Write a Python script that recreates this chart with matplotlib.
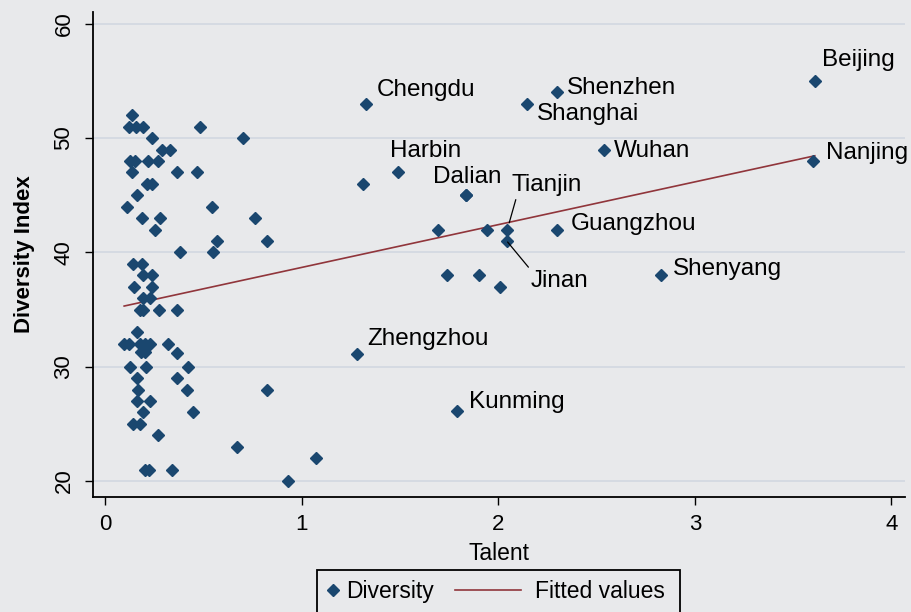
import numpy as np
import matplotlib
matplotlib.use("Agg")
import matplotlib.pyplot as plt
from matplotlib.lines import Line2D
from matplotlib.patches import Rectangle

plt.rcParams['font.family'] = ['Liberation Sans', 'DejaVu Sans']

# labelled cities
cities = ['Beijing', 'Nanjing', 'Shenzhen', 'Shanghai', 'Chengdu', 'Wuhan',
          'Harbin', 'Dalian', 'Tianjin', 'Guangzhou', 'Jinan', 'Shenyang',
          'Zhengzhou', 'Kunming']
city_talent = [3.61, 3.60, 2.30, 2.147, 1.326, 2.537, 1.487, 1.835, 2.045,
               2.30, 2.042, 2.825, 1.278, 1.79]
city_div = [55, 48, 54, 53, 53, 49, 47, 45, 42, 42, 41, 38, 31.1, 26.1]

# other (unlabelled) cities
other_talent = [0.133,
                0.12, 0.155, 0.19, 0.48,
                0.235, 0.70,
                0.286, 0.328,
                0.125, 0.15, 0.218, 0.269,
                0.133, 0.362, 0.467,
                0.21, 0.235, 1.312,
                0.159, 1.835,
                0.108, 0.54,
                0.184, 0.277, 0.76,
                0.252, 1.69, 1.94,
                0.569, 0.82,
                0.379, 0.549,
                0.142, 0.184,
                0.192, 0.235, 1.74, 1.90,
                0.147, 0.235, 2.01,
                0.192, 0.226,
                0.176, 0.192, 0.274, 0.365,
                0.159,
                0.095, 0.12, 0.175, 0.2, 0.226, 0.317,
                0.18, 0.2, 0.365,
                0.125, 0.206, 0.42,
                0.159, 0.365,
                0.164, 0.413, 0.82,
                0.159, 0.226,
                0.192, 0.447,
                0.142, 0.176,
                0.269,
                0.668,
                1.07,
                0.20, 0.22, 0.34,
                0.927]
other_div = [52,
             51, 51, 51, 51,
             50, 50,
             49, 49,
             48, 48, 48, 48,
             47, 47, 47,
             46, 46, 46,
             45, 45,
             44, 44,
             43, 43, 43,
             42, 42, 42,
             41, 41,
             40, 40,
             39, 39,
             38, 38, 38, 38,
             37, 37, 37,
             36, 36,
             35, 35, 35, 35,
             33,
             32, 32, 32, 32, 32, 32,
             31.3, 31.3, 31.2,
             30, 30, 30,
             29, 29,
             28, 28, 28,
             27, 27,
             26, 26,
             25, 25,
             24,
             23,
             22,
             21, 21, 21,
             20]

# fitted line
fit_intercept = 34.95
fit_slope = 3.74

# label offsets in pixels (dx, dy), dy positive = down
label_offsets = {
    'Beijing': (7, -21), 'Nanjing': (13, -8), 'Shenzhen': (9, -4),
    'Shanghai': (10, 10), 'Chengdu': (11, -14), 'Wuhan': (10, 1),
    'Harbin': (-8, -21), 'Dalian': (-33, -18), 'Tianjin': (4, -45),
    'Guangzhou': (13, -6), 'Jinan': (24, 40), 'Shenyang': (12, -6),
    'Zhengzhou': (11, -15), 'Kunming': (12, -9),
}

bg = '#e8e9eb'
navy = '#1a476f'
maroon = '#90353b'

fig = plt.figure(figsize=(9.12, 6.12), dpi=100, facecolor=bg)
ax = fig.add_axes([92.6 / 912, 1 - 497 / 612, (905 - 92.6) / 912, (497 - 12) / 612])
ax.set_facecolor(bg)

all_x = np.array(other_talent + city_talent)
all_y = np.array(other_div + city_div)

ax.plot(all_x, all_y, linestyle='none', marker='D', ms=6.4, color=navy,
        mec=navy, zorder=3)

xf = np.array([all_x.min(), all_x.max()])
ax.plot(xf, fit_intercept + fit_slope * xf, color=maroon, lw=1.2, zorder=2)

px = 0.72  # points per pixel
for name, cx, cy in zip(cities, city_talent, city_div):
    dx, dy = label_offsets[name]
    kw = {}
    if name == 'Tianjin':
        kw['arrowprops'] = dict(arrowstyle='-', color='black', lw=0.9,
                                relpos=(0.08, 0.0), shrinkA=1, shrinkB=5)
    elif name == 'Jinan':
        kw['arrowprops'] = dict(arrowstyle='-', color='black', lw=0.9,
                                relpos=(0.0, 1.0), shrinkA=0, shrinkB=1)
    ax.annotate(name, (cx, cy), xytext=(dx * px, -dy * px),
                textcoords='offset points', ha='left', va='center',
                fontsize=17.5, color='black', zorder=4, **kw)

ax.set_xlim(-0.0656, 4.069)
ax.set_ylim(18.6, 61.03)
ax.set_xticks([0, 1, 2, 3, 4])
ax.set_yticks([20, 30, 40, 50, 60])
ax.tick_params(axis='both', length=6, width=1, labelsize=16, colors='black')
ax.tick_params(axis='x', pad=6)
ax.tick_params(axis='y', pad=7)
for lab in ax.get_yticklabels():
    lab.set_rotation(90)
    lab.set_va('center')

ax.yaxis.grid(True, color='#d3d9e2', lw=1.3)
ax.set_axisbelow(True)
for s in ['top', 'right']:
    ax.spines[s].set_visible(False)
for s in ['left', 'bottom']:
    ax.spines[s].set_linewidth(1.3)
    ax.spines[s].set_color('black')

ax.set_xlabel('Talent', fontsize=16.5, labelpad=5)
ax.set_ylabel('Diversity Index', fontsize=16, fontweight='bold', labelpad=13)

# legend
h1 = Line2D([], [], linestyle='none', marker='D', ms=6, color=navy)
h2 = Line2D([], [], color=maroon, lw=1.2)
yc = 1 - 591.7 / 612
leg1 = fig.legend([h1], ['Diversity'], loc='center left',
                  bbox_to_anchor=(326 / 912, yc), frameon=False, fontsize=16.5,
                  handlelength=0.6, handletextpad=0.3, borderpad=0,
                  borderaxespad=0)
leg2 = fig.legend([h2], ['Fitted values'], loc='center left',
                  bbox_to_anchor=(455 / 912, yc), frameon=False, fontsize=16.5,
                  handlelength=2.9, handletextpad=0.6, borderpad=0,
                  borderaxespad=0)
fig.patches.append(Rectangle((317 / 912, -0.02), (680 - 317) / 912,
                             (612 - 570) / 612 + 0.02, transform=fig.transFigure,
                             fill=False, ec='black', lw=1.3))

fig.savefig('out.png', dpi=100, facecolor=bg)
